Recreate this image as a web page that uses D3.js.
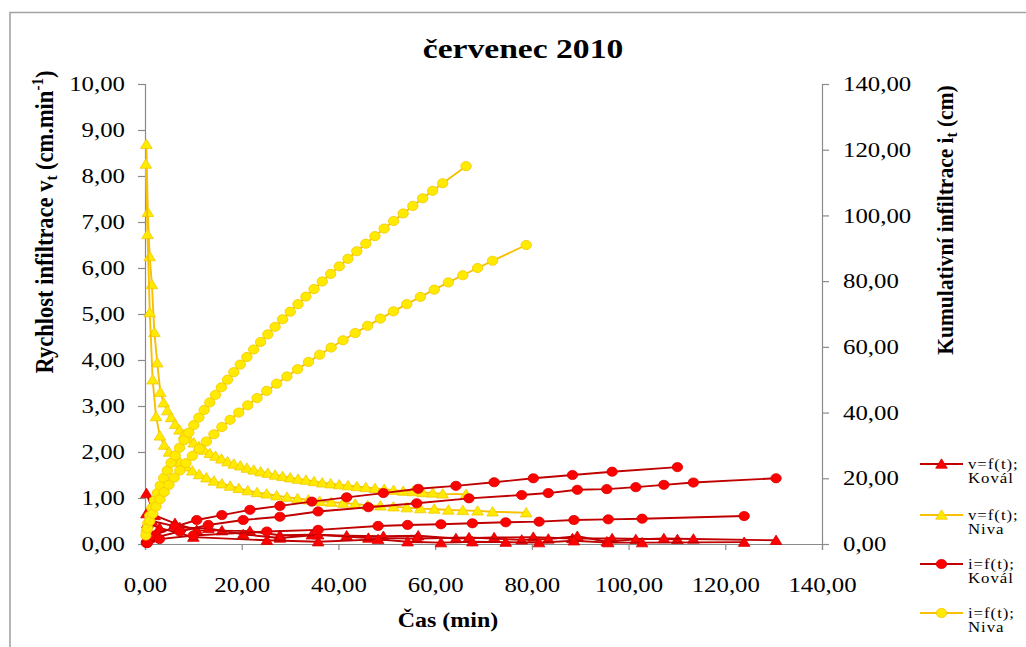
<!DOCTYPE html>
<html>
<head>
<meta charset="utf-8">
<script src="https://cdn.jsdelivr.net/npm/d3@7"></script>
<style>
  body { margin: 0; background: #fff; }
  svg { display: block; }
  text { font-family: "Liberation Serif", "Times New Roman", serif; fill: #000; }
</style>
</head>
<body>
<svg id="chart" width="1026" height="647"></svg>
<script>
// ---- Niva, run 1: time (min), infiltration rate v (cm/min), cumulative infiltration i (cm)
const nivaT1 = [0.28, 0.58, 0.97, 1.42, 1.94, 2.53, 3.17, 3.86, 4.61, 5.40, 6.25, 7.14, 8.08, 9.06, 10.08, 11.15, 12.25, 13.40, 14.58, 15.80, 17.07, 18.37, 19.70, 21.07, 22.48, 23.92, 25.40, 26.91, 28.46, 30.03, 31.64, 33.28, 34.96, 36.66, 38.40, 40.17, 41.97, 43.80, 45.66, 47.55, 49.46, 51.41, 53.39, 55.38, 57.43, 59.49, 61.56, 66.39];
const nivaV1 = [8.69, 7.21, 6.25, 5.64, 4.60, 3.94, 3.30, 3.07, 2.90, 2.75, 2.60, 2.48, 2.38, 2.29, 2.20, 2.12, 2.04, 1.97, 1.91, 1.85, 1.79, 1.74, 1.70, 1.65, 1.61, 1.57, 1.54, 1.50, 1.47, 1.44, 1.41, 1.39, 1.36, 1.33, 1.31, 1.29, 1.27, 1.25, 1.23, 1.21, 1.19, 1.17, 1.15, 1.14, 1.12, 1.11, 1.09, 1.08];
const nivaI1 = [4.0, 6.3, 8.6, 10.9, 13.2, 15.5, 17.8, 20.1, 22.4, 24.7, 27.0, 29.3, 31.6, 33.9, 36.2, 38.5, 40.8, 43.1, 45.4, 47.7, 50.0, 52.3, 54.6, 56.9, 59.2, 61.5, 63.8, 66.1, 68.4, 70.7, 73.0, 75.3, 77.6, 79.9, 82.2, 84.5, 86.8, 89.1, 91.4, 93.7, 96.0, 98.3, 100.6, 102.9, 105.2, 107.5, 109.8, 115.0];

// ---- Niva, run 2
const nivaT2 = [0.18, 0.52, 0.99, 1.58, 2.28, 3.08, 3.97, 4.96, 6.04, 7.21, 8.46, 9.79, 11.20, 12.69, 14.25, 15.89, 17.60, 19.39, 21.24, 23.17, 25.16, 27.22, 29.35, 31.54, 33.80, 36.12, 38.50, 40.95, 43.47, 46.04, 48.68, 51.38, 54.12, 56.94, 59.81, 62.74, 65.72, 68.77, 71.88, 78.83];
const nivaV2 = [8.26, 6.73, 5.03, 3.57, 2.77, 2.35, 2.15, 2.00, 1.88, 1.78, 1.68, 1.59, 1.51, 1.44, 1.37, 1.31, 1.26, 1.21, 1.16, 1.12, 1.09, 1.05, 1.02, 0.99, 0.96, 0.93, 0.91, 0.89, 0.87, 0.84, 0.83, 0.81, 0.79, 0.77, 0.76, 0.74, 0.73, 0.72, 0.70, 0.68];
const nivaI2 = [2.6, 4.8, 7.0, 9.2, 11.4, 13.6, 15.8, 18.0, 20.2, 22.4, 24.6, 26.8, 29.0, 31.2, 33.4, 35.6, 37.8, 40.0, 42.2, 44.4, 46.6, 48.8, 51.0, 53.2, 55.4, 57.6, 59.8, 62.0, 64.2, 66.4, 68.6, 70.8, 73.0, 75.2, 77.4, 79.6, 81.8, 84.0, 86.2, 91.0];

// ---- Kovál, run 1
const kovalT1 = [0.3, 2.0, 6.2, 10.7, 15.9, 21.7, 27.9, 34.5, 41.7, 49.3, 56.5, 64.3, 72.2, 80.3, 88.4, 96.6, 110.1];
const kovalV1 = [1.10, 0.62, 0.45, 0.30, 0.29, 0.28, 0.19, 0.20, 0.18, 0.17, 0.18, 0.12, 0.14, 0.15, 0.12, 0.12, 0.10];
const kovalI1 = [0.5, 2.6, 5.3, 7.3, 8.8, 10.4, 11.6, 12.9, 14.2, 15.5, 16.8, 17.7, 18.8, 20.0, 21.0, 22.0, 23.4];

// ---- Kovál, run 2
const kovalT2 = [0.3, 1.4, 7.2, 13.1, 20.3, 27.9, 35.8, 46.2, 56.2, 67.0, 77.9, 83.4, 89.4, 95.5, 101.5, 107.3, 113.4, 130.5];
const kovalV2 = [0.66, 0.50, 0.36, 0.34, 0.21, 0.13, 0.20, 0.13, 0.12, 0.14, 0.09, 0.11, 0.17, 0.05, 0.10, 0.12, 0.11, 0.08];
const kovalI2 = [0.3, 1.7, 3.8, 5.8, 7.3, 8.3, 9.9, 11.2, 12.4, 13.9, 14.9, 15.5, 16.5, 16.7, 17.3, 18.0, 18.7, 20.0];

// ---- Kovál, run 3
const kovalT3 = [0.5, 3.0, 10.0, 25.2, 35.8, 48.2, 54.3, 61.2, 67.7, 74.6, 81.5, 88.7, 95.8, 102.8, 123.9];
const kovalV3 = [0.45, 0.35, 0.15, 0.08, 0.05, 0.10, 0.05, 0.03, 0.05, 0.04, 0.03, 0.07, 0.03, 0.03, 0.04];
const kovalI3 = [0.3, 1.5, 2.6, 3.8, 4.3, 5.5, 5.8, 6.0, 6.3, 6.6, 6.8, 7.3, 7.5, 7.7, 8.5];

// ---- axis ticks and texts
const timeTicks = [0, 20, 40, 60, 80, 100, 120, 140];
const rateTicks = [0, 1, 2, 3, 4, 5, 6, 7, 8, 9, 10];
const cumTicks = [0, 20, 40, 60, 80, 100, 120, 140];
const legendLabels = [["v=f(t);", "Kovál"], ["v=f(t);", "Niva"], ["i=f(t);", "Kovál"], ["i=f(t);", "Niva"]];
const chartTitle = "červenec 2010";

// ---- drawing
const svg = d3.select("#chart");
const SX = 1.2;   // horizontal stretch of horizontal text
const SXT = 1.24; // stretch of tick labels

const plot = { left: 145, right: 822, top: 84, bottom: 544 };
const x = d3.scaleLinear().domain([0, 140]).range([plot.left, plot.right]);
const yRate = d3.scaleLinear().domain([0, 10]).range([plot.bottom, plot.top]);
const yCum = d3.scaleLinear().domain([0, 140]).range([plot.bottom, plot.top]);

const cz = d3.formatLocale({ decimal: ",", thousands: " ", grouping: [3], currency: ["", " Kč"] });
const fmt = cz.format(".2f");

const RED = { fill: "#ff0000", stroke: "#d40000", line: "#c00000" };
const YEL = { fill: "#ffea00", stroke: "#f2c800", line: "#f7c000" };
const AXIS = "#8a8a8a";

// frame
svg.append("path").attr("d", "M10,647 L10,12.5 L1026,12.5")
  .attr("fill", "none").attr("stroke", "#a3a3a3").attr("stroke-width", 1.6);

// title
svg.append("text").attr("transform", `translate(523,58) scale(${SX},1)`)
  .attr("text-anchor", "middle").attr("font-size", 28).attr("font-weight", "bold")
  .text(chartTitle);

function styleAxis(g) {
  g.select(".domain").attr("stroke", AXIS).attr("stroke-width", 1.2);
  g.selectAll(".tick line").attr("stroke", AXIS).attr("stroke-width", 1.2);
  g.selectAll(".tick text").attr("font-size", 20).attr("fill", "#1a1a1a");
}

// bottom axis
const gx = svg.append("g").attr("transform", `translate(0,${plot.bottom})`)
  .call(d3.axisBottom(x).tickValues(timeTicks).tickFormat(fmt).tickSize(6).tickPadding(0));
styleAxis(gx);
gx.selectAll(".tick text").attr("y", 0).attr("dy", 0)
  .attr("transform", `translate(0,48) scale(${SXT},1)`);

// left axis
const gl = svg.append("g").attr("transform", `translate(${plot.left},0)`)
  .call(d3.axisLeft(yRate).tickValues(rateTicks).tickFormat(fmt).tickSize(7));
styleAxis(gl);
gl.selectAll(".tick text").attr("x", 0).attr("dy", "0.33em")
  .attr("transform", `translate(-20,0) scale(${SXT},1)`);

// right axis
const gr = svg.append("g").attr("transform", `translate(${plot.right},0)`)
  .call(d3.axisRight(yCum).tickValues(cumTicks).tickFormat(fmt).tickSize(7));
styleAxis(gr);
gr.selectAll(".tick text").attr("x", 0).attr("dy", "0.33em")
  .attr("transform", `translate(21,0) scale(${SXT},1)`);

// axis titles
svg.append("text").attr("transform", `translate(448,627) scale(${SX},1)`)
  .attr("text-anchor", "middle").attr("font-size", 20).attr("font-weight", "bold")
  .text("Čas (min)");

const tl = svg.append("text")
  .attr("transform", `translate(53,222) rotate(-90) scale(1,1.12)`)
  .attr("text-anchor", "middle").attr("font-size", 22.5).attr("font-weight", "bold");
tl.append("tspan").text("Rychlost infiltrace v");
tl.append("tspan").attr("font-size", 15).attr("dy", 4).text("t");
tl.append("tspan").attr("dy", -4).text(" (cm.min");
tl.append("tspan").attr("font-size", 15).attr("dy", -9).text("-1");
tl.append("tspan").attr("dy", 9).text(")");

const tr = svg.append("text")
  .attr("transform", `translate(953,220) rotate(-90) scale(1,1.12)`)
  .attr("text-anchor", "middle").attr("font-size", 21.5).attr("font-weight", "bold");
tr.append("tspan").text("Kumulativní infiltrace i");
tr.append("tspan").attr("font-size", 15).attr("dy", 4).text("t");
tr.append("tspan").attr("dy", -4).text(" (cm)");

// markers
const TRI = "M0,-5.2 L5.8,4.2 L-5.8,4.2 Z";
function drawMarker(g, kind, col, px, py) {
  if (kind === "tri") {
    g.append("path").attr("d", TRI).attr("transform", `translate(${px},${py})`)
      .attr("fill", col.fill).attr("stroke", col.stroke).attr("stroke-width", 0.8);
  } else {
    g.append("ellipse").attr("cx", px).attr("cy", py).attr("rx", 5.2).attr("ry", 4.6)
      .attr("fill", col.fill).attr("stroke", col.stroke).attr("stroke-width", 0.8);
  }
}

function drawSeries(times, values, yScale, kind, col) {
  const pts = times.map((t, k) => [x(t), yScale(values[k])]);
  const g = svg.append("g");
  g.append("path").attr("d", d3.line()(pts)).attr("fill", "none")
    .attr("stroke", col.line).attr("stroke-width", 1.9).attr("stroke-linejoin", "round");
  pts.forEach(p => drawMarker(g, kind, col, p[0], p[1]));
}

// rates (left axis)
drawSeries(kovalT1, kovalV1, yRate, "tri", RED);
drawSeries(kovalT2, kovalV2, yRate, "tri", RED);
drawSeries(kovalT3, kovalV3, yRate, "tri", RED);
drawSeries(nivaT1, nivaV1, yRate, "tri", YEL);
drawSeries(nivaT2, nivaV2, yRate, "tri", YEL);
// cumulative infiltration (right axis)
drawSeries(kovalT1, kovalI1, yCum, "circ", RED);
drawSeries(kovalT2, kovalI2, yCum, "circ", RED);
drawSeries(kovalT3, kovalI3, yCum, "circ", RED);
drawSeries(nivaT1, nivaI1, yCum, "circ", YEL);
drawSeries(nivaT2, nivaI2, yCum, "circ", YEL);

// legend
const legendKinds = [["tri", RED], ["tri", YEL], ["circ", RED], ["circ", YEL]];
const legendY = [464, 515, 564, 613];
legendLabels.forEach((lab, k) => {
  const g = svg.append("g");
  const yy = legendY[k];
  const col = legendKinds[k][1];
  g.append("line").attr("x1", 920).attr("x2", 963).attr("y1", yy).attr("y2", yy)
    .attr("stroke", col.line).attr("stroke-width", 2);
  drawMarker(g, legendKinds[k][0], col, 941.5, yy);
  lab.forEach((s, j) => {
    g.append("text").attr("transform", `translate(968,${yy + 5 + j * 13.5}) scale(${SX},1)`)
      .attr("font-size", 14).attr("letter-spacing", 0.8).text(s);
  });
});
</script>
</body>
</html>
